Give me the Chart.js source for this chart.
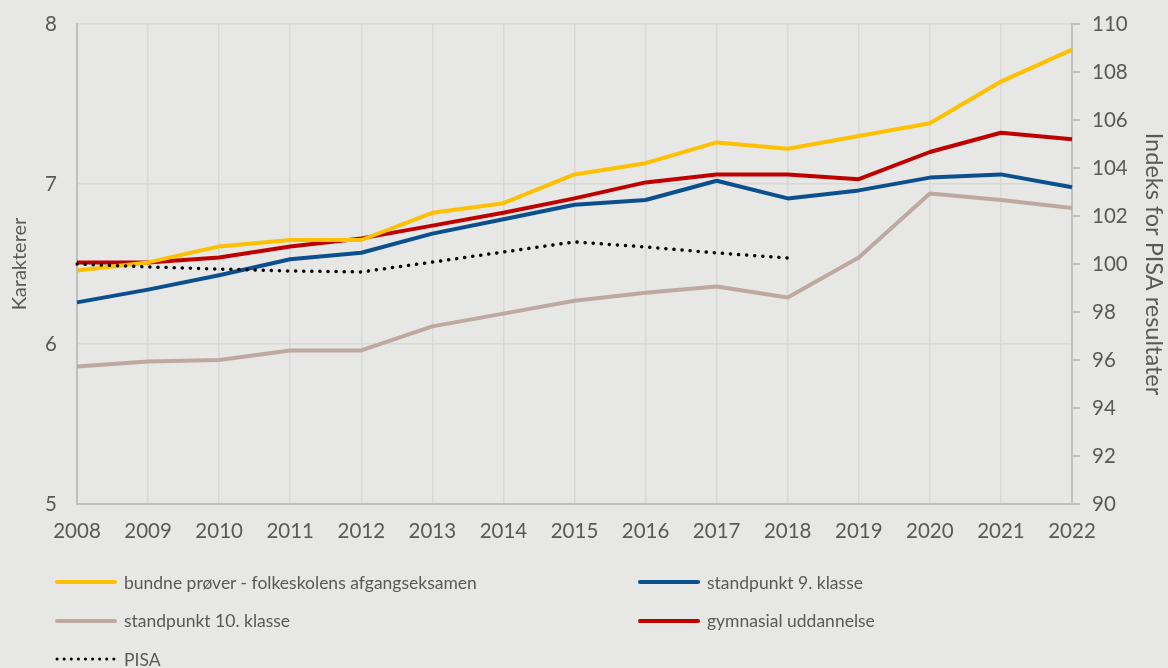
<!DOCTYPE html>
<html><head><meta charset="utf-8">
<script src="https://cdn.jsdelivr.net/npm/chart.js@4"></script>
<style>
html,body{margin:0;padding:0;background:#e7e7e5;}
#wrap{position:relative;width:1168px;height:668px;background:#e7e7e5;overflow:hidden;}
#c{position:absolute;left:0;top:0;}
#legend{position:absolute;left:55px;top:563px;display:grid;grid-template-columns:583px auto;font-family:Lato, sans-serif;font-size:17.5px;color:#595959;}
.item{display:flex;align-items:center;height:38.5px;white-space:nowrap;}
.item svg{margin-right:7px;}
</style></head>
<body><div id="wrap"><canvas id="c" width="1168" height="668"></canvas><div id="legend"></div></div>
<script>
const years = ['2008','2009','2010','2011','2012','2013','2014','2015','2016','2017','2018','2019','2020','2021','2022'];
const bundneProver = [6.46,6.51,6.61,6.65,6.65,6.82,6.88,7.06,7.13,7.26,7.22,7.30,7.38,7.64,7.84];
const standpunkt9 = [6.26,6.34,6.43,6.53,6.57,6.69,6.78,6.87,6.90,7.02,6.91,6.96,7.04,7.06,6.98];
const standpunkt10 = [5.86,5.89,5.90,5.96,5.96,6.11,6.19,6.27,6.32,6.36,6.29,6.54,6.94,6.90,6.85];
const gymnasial = [6.51,6.51,6.54,6.61,6.66,6.74,6.82,6.91,7.01,7.06,7.06,7.03,7.20,7.32,7.28];
const pisa = [100.0,99.88,99.79,99.71,99.67,100.08,100.5,100.92,100.71,100.46,100.25,null,null,null,null];
const leftTicks = [5,6,7,8];
const rightTicks = [90,92,94,96,98,100,102,104,106,108,110];

const TXT = '#595959';
const FONT = 'Lato';
const ds = (label, data, color, extra) => Object.assign({
  label, data, borderColor: color, backgroundColor: color, borderWidth: 4,
  pointRadius: 0, tension: 0, fill: false, yAxisID: 'y', borderJoinStyle: 'round'
}, extra || {});

const fixV = w => s => { s.width = w; s.paddingTop = 0; s.paddingBottom = 0; };

const chart = new Chart(document.getElementById('c'), {
  type: 'line',
  data: {
    labels: years,
    datasets: [
      ds('PISA', pisa, '#000000', {yAxisID: 'y1', borderWidth: 3.5, borderDash: [0.1, 8], borderCapStyle: 'round', spanGaps: false}),
      ds('bundne prøver - folkeskolens afgangseksamen', bundneProver, '#FFC000'),
      ds('gymnasial uddannelse', gymnasial, '#C00000'),
      ds('standpunkt 9. klasse', standpunkt9, '#0B4F8E'),
      ds('standpunkt 10. klasse', standpunkt10, '#BDA9A1')
    ]
  },
  options: {
    responsive: false,
    animation: false,
    layout: {padding: {top: 24, left: 0, right: 0, bottom: 0}},
    plugins: {legend: {display: false}, tooltip: {enabled: false}},
    scales: {
      x: {
        offset: false,
        grid: {color: '#d8d8d6', lineWidth: 1.5, drawTicks: false},
        border: {color: '#bfbfbf', width: 2},
        ticks: {font: {family: FONT, size: 20.5}, color: TXT, padding: 15, maxRotation: 0, autoSkip: false},
        afterFit: s => { s.height = 164; s.paddingLeft = 0; s.paddingRight = 0; }
      },
      y: {
        position: 'left', min: 5, max: 8,
        afterBuildTicks: s => { s.ticks = leftTicks.map(v => ({value: v})); },
        grid: {color: '#d8d8d6', lineWidth: 1.5, drawTicks: false},
        border: {color: '#bfbfbf', width: 2},
        ticks: {font: {family: FONT, size: 20.5}, color: TXT, padding: 20},
        title: {display: true, text: 'Karakterer', font: {family: FONT, size: 20}, color: TXT, padding: {top: 8, bottom: 0}},
        afterFit: fixV(77)
      },
      y1: {
        position: 'right', min: 90, max: 110,
        afterBuildTicks: s => { s.ticks = rightTicks.map(v => ({value: v})); },
        grid: {drawOnChartArea: false, drawTicks: true, tickLength: 8, color: '#bfbfbf', lineWidth: 2},
        border: {color: '#bfbfbf', width: 2},
        ticks: {font: {family: FONT, size: 20.5}, color: TXT, padding: 12},
        title: {display: true, text: 'Indeks for PISA resultater', font: {family: FONT, size: 23.5}, color: TXT, padding: {top: 0, bottom: 0}},
        afterFit: fixV(96)
      }
    }
  }
});

// HTML legend built from the chart's datasets
const order = ['bundne prøver - folkeskolens afgangseksamen','standpunkt 9. klasse','standpunkt 10. klasse','gymnasial uddannelse','PISA'];
const leg = document.getElementById('legend');
order.forEach(lbl => {
  const d = chart.data.datasets.find(x => x.label === lbl);
  const it = document.createElement('div');
  it.className = 'item';
  const dotted = !!d.borderDash;
  const sw = `<svg width="62" height="8"><line x1="2" y1="4" x2="60" y2="4" stroke="${d.borderColor}" stroke-width="${dotted ? 3 : 4}" stroke-linecap="round" ${dotted ? 'stroke-dasharray="0.1 7"' : ''}/></svg>`;
  it.innerHTML = sw + '<span></span>';
  it.querySelector('span').textContent = d.label;
  leg.appendChild(it);
});
</script>
</body></html>
